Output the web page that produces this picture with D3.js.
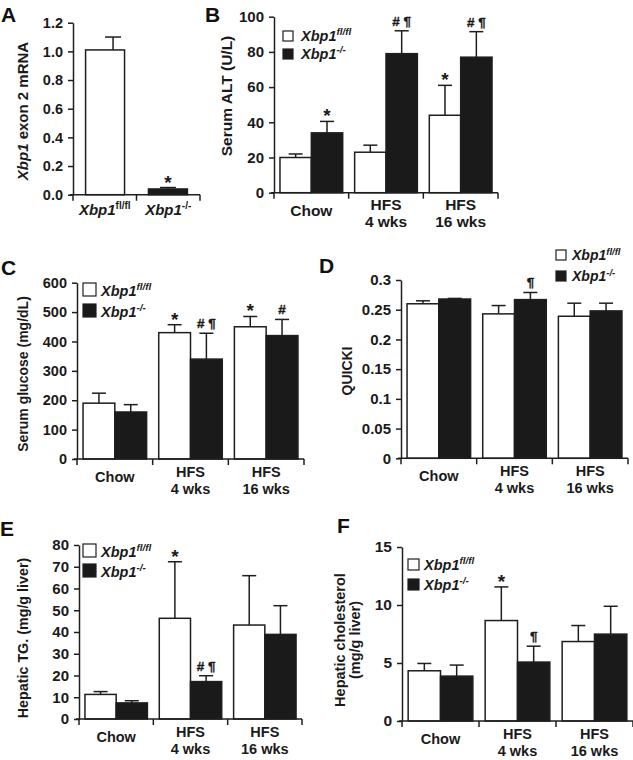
<!DOCTYPE html>
<html><head><meta charset="utf-8">
<script src="https://cdn.jsdelivr.net/npm/d3@7"></script>
<style>
body{margin:0;background:#fff;}
svg{display:block;font-family:"Liberation Sans",Arial,Helvetica,sans-serif;font-weight:bold;}
</style>
</head><body>
<svg id="c" width="633" height="760"></svg>
<script>
// ---------------- DATA ----------------
const groupLabels = [["Chow"], ["HFS", "4 wks"], ["HFS", "16 wks"]];
const genotypes = ["fl/fl", "-/-"];

// Panel A: Xbp1 exon 2 mRNA
const aValues = [1.01, 0.04];
const aSem = [0.09, 0.01];
const aTicks = [0, 0.2, 0.4, 0.6, 0.8, 1.0, 1.2];
const aMarks = [["*", 1]];

// Panel B: Serum ALT (U/L)
const bWT = [20, 23, 44];
const bWTsem = [2, 4, 17];
const bKO = [34, 79, 77];
const bKOsem = [6.5, 13, 14.5];
const bTicks = [0, 20, 40, 60, 80, 100];
const bMarks = [["*", 0, 1], ["# ¶", 1, 1], ["*", 2, 0], ["# ¶", 2, 1]];

// Panel C: Serum glucose (mg/dL)
const cWT = [190, 430, 450];
const cWTsem = [34, 27, 35];
const cKO = [160, 340, 420];
const cKOsem = [25, 88, 55];
const cTicks = [0, 100, 200, 300, 400, 500, 600];
const cMarks = [["*", 1, 0], ["# ¶", 1, 1], ["*", 2, 0], ["#", 2, 1]];

// Panel D: QUICKI
const dWT = [0.260, 0.243, 0.239];
const dWTsem = [0.005, 0.014, 0.022];
const dKO = [0.268, 0.267, 0.248];
const dKOsem = [0.001, 0.012, 0.013];
const dTicks = [0, 0.05, 0.1, 0.15, 0.2, 0.25, 0.3];
const dMarks = [["¶", 1, 1]];

// Panel E: Hepatic TG (mg/g liver)
const eWT = [11.3, 46.3, 43.2];
const eWTsem = [1.3, 26, 22.7];
const eKO = [7.4, 17.2, 38.9];
const eKOsem = [1.0, 2.7, 13.2];
const eTicks = [0, 10, 20, 30, 40, 50, 60, 70, 80];
const eMarks = [["*", 1, 0], ["# ¶", 1, 1]];

// Panel F: Hepatic cholesterol (mg/g liver)
const fWT = [4.33, 8.66, 6.85];
const fWTsem = [0.63, 2.9, 1.38];
const fKO = [3.87, 5.08, 7.49];
const fKOsem = [0.95, 1.37, 2.4];
const fTicks = [0, 5, 10, 15];
const fMarks = [["*", 1, 0], ["¶", 1, 1]];

// ---------------- DRAWING ----------------
const svg = d3.select("#c");
const INK = "#1e1e1e";
const TXT = "#1a1a1a";
const BAR_BLACK = "#1a1a1a";

function xbp1(sel, sup, size, supSize, italicSup) {
  sel.append("tspan").attr("font-style", "italic").text("Xbp1");
  sel.append("tspan").attr("font-style", italicSup ? "italic" : "normal")
    .attr("font-size", supSize).attr("dy", -size * 0.38).text(sup);
}

function letter(t, x, y) {
  svg.append("text").attr("x", x).attr("y", y).attr("font-size", 21).attr("fill", "#111").text(t);
}

function yAxis(g, y, x0, ticks, fmt, fs) {
  const ax = d3.axisLeft(y).tickValues(ticks).tickFormat(fmt).tickSize(5).tickSizeOuter(0).tickPadding(5);
  const a = g.append("g").attr("transform", `translate(${x0},0)`).call(ax);
  a.attr("font-family", null).attr("font-size", null);
  a.select(".domain").attr("stroke", INK).attr("stroke-width", 1.5);
  a.selectAll(".tick line").attr("stroke", INK).attr("stroke-width", 1.5);
  a.selectAll(".tick text").attr("font-size", fs).attr("font-weight", "bold").attr("fill", TXT);
}

function yTitle(g, x, y, fs, build) {
  const t = g.append("text").attr("transform", `translate(${x},${y}) rotate(-90)`)
    .attr("text-anchor", "middle").attr("font-size", fs).attr("fill", TXT);
  build(t);
}

function errBar(g, cx, yTop, yErr, cap) {
  g.append("line").attr("x1", cx).attr("x2", cx).attr("y1", yTop).attr("y2", yErr)
    .attr("stroke", INK).attr("stroke-width", 1.5);
  g.append("line").attr("x1", cx - cap / 2).attr("x2", cx + cap / 2).attr("y1", yErr).attr("y2", yErr)
    .attr("stroke", INK).attr("stroke-width", 1.5);
}

function mark(g, t, cx, yCap) {
  const star = t === "*";
  g.append("text").attr("x", cx).attr("y", star ? yCap + 1 : yCap - 5)
    .attr("text-anchor", "middle")
    .attr("font-size", star ? 19 : 13.5).attr("fill", TXT)
    .attr("stroke", TXT).attr("stroke-width", star ? 0 : 0.35)
    .text(t);
}

// ---- Panel A ----
(function () {
  const x0 = 73, x1 = 200, yTop = 22.7, yBot = 194.7;
  const g = svg.append("g");
  const y = d3.scaleLinear().domain([0, 1.2]).range([yBot, yTop]);
  const x = d3.scaleBand().domain(genotypes).range([x0, x1]).paddingInner(0.38).paddingOuter(0.2);
  genotypes.forEach((k, i) => {
    const bx = x(k), bw = x.bandwidth();
    const cx = bx + bw / 2 + (i === 0 ? 8 : 0);
    errBar(g, cx, y(aValues[i]), y(aValues[i] + aSem[i]), 16);
    g.append("rect").attr("x", bx).attr("y", y(aValues[i])).attr("width", bw)
      .attr("height", yBot - y(aValues[i]))
      .attr("fill", i === 0 ? "#fff" : BAR_BLACK).attr("stroke", INK).attr("stroke-width", 1.5);
  });
  aMarks.forEach(([t, i]) => mark(g, t, x(genotypes[i]) + x.bandwidth() / 2, y(aValues[i] + aSem[i])));
  yAxis(g, y, x0, aTicks, d3.format(".1f"), 14.5);
  g.append("line").attr("x1", x0 - 3).attr("x2", x1).attr("y1", yBot).attr("y2", yBot).attr("stroke", INK).attr("stroke-width", 1.5);
  const step = (x1 - x0) / 2;
  [0, 1, 2].forEach(i => g.append("line").attr("x1", x0 + step * i).attr("x2", x0 + step * i)
    .attr("y1", yBot).attr("y2", yBot + 6).attr("stroke", INK).attr("stroke-width", 1.5));
  genotypes.forEach((k, i) => {
    const t = g.append("text").attr("x", x0 + step * (i + 0.5)).attr("y", yBot + 20)
      .attr("text-anchor", "middle").attr("font-size", 15).attr("fill", TXT);
    xbp1(t, k, 15, 10, false);
  });
  yTitle(g, 28, 111, 15, t => {
    t.append("tspan").attr("font-style", "italic").text("Xbp1");
    t.append("tspan").text(" exon 2 mRNA");
  });
  letter("A", 1, 22);
})();

// ---- Grouped panels ----
function grouped(c) {
  const g = svg.append("g");
  const y = d3.scaleLinear().domain(c.domain).range([c.yBot, c.yTop]);
  const x = d3.scaleBand().domain([0, 1, 2]).range([c.x0, c.x1]).paddingInner(0.16).paddingOuter(0.08);
  const sub = d3.scaleBand().domain([0, 1]).range([0, x.bandwidth()]);
  const series = [[c.wt, c.wtSem], [c.ko, c.koSem]];
  series.forEach(([vals, sems], s) => {
    vals.forEach((v, i) => {
      const bx = x(i) + sub(s), bw = sub.bandwidth();
      errBar(g, bx + bw / 2, y(v), y(v + sems[i]), 14);
      g.append("rect").attr("x", bx).attr("y", y(v)).attr("width", bw).attr("height", c.yBot - y(v))
        .attr("fill", s === 0 ? "#fff" : BAR_BLACK).attr("stroke", INK).attr("stroke-width", 1.5);
    });
  });
  c.marks.forEach(([t, i, s]) => {
    const [vals, sems] = series[s];
    mark(g, t, x(i) + sub(s) + sub.bandwidth() / 2, y(vals[i] + sems[i]));
  });
  yAxis(g, y, c.x0, c.ticks, c.fmt, c.tickFs);
  g.append("line").attr("x1", c.x0 - 3).attr("x2", c.x1).attr("y1", c.yBot).attr("y2", c.yBot).attr("stroke", INK).attr("stroke-width", 1.5);
  const step = x.step();
  [0, 1, 2, 3].forEach(i => g.append("line").attr("x1", c.x0 + step * i).attr("x2", c.x0 + step * i)
    .attr("y1", c.yBot).attr("y2", c.yBot + 6).attr("stroke", INK).attr("stroke-width", 1.5));
  const cf = c.catFs;
  groupLabels.forEach((lines, i) => {
    const cx = c.x0 + step * (i + 0.5);
    if (lines.length === 1) {
      g.append("text").attr("x", cx).attr("y", c.yBot + 23).attr("text-anchor", "middle")
        .attr("font-size", cf).attr("fill", TXT).text(lines[0]);
    } else {
      lines.forEach((l, j) => g.append("text").attr("x", cx).attr("y", c.yBot + 17.5 + j * 17)
        .attr("text-anchor", "middle").attr("font-size", cf).attr("fill", TXT).text(l));
    }
  });
  const L = c.legend;
  genotypes.forEach((k, i) => {
    const yy = L.y + i * L.gap;
    g.append("rect").attr("x", L.x).attr("y", yy - L.size).attr("width", L.size).attr("height", L.size)
      .attr("fill", i === 0 ? "#fff" : BAR_BLACK).attr("stroke", INK).attr("stroke-width", 1.2);
    const t = g.append("text").attr("x", L.x + L.size + L.textGap).attr("y", yy)
      .attr("font-size", L.fs).attr("fill", TXT);
    xbp1(t, k, L.fs, L.fs * 0.68, true);
  });
  yTitle(g, c.titleX, c.titleY, c.titleFs, c.title);
  letter(c.letter, c.letterX, c.letterY);
}

const fmtInt = d3.format("d");
const simple = t => g => g.text(t);

grouped({x0: 274, x1: 498, yTop: 16.7, yBot: 192.7, domain: [0, 100], ticks: bTicks, fmt: fmtInt,
  wt: bWT, wtSem: bWTsem, ko: bKO, koSem: bKOsem, marks: bMarks, tickFs: 15, catFs: 15.5,
  legend: {x: 283, y: 41, size: 10, gap: 18, textGap: 8, fs: 14.5},
  titleX: 232, titleY: 96, titleFs: 15.5, title: simple("Serum ALT (U/L)"), letter: "B", letterX: 205, letterY: 22});

grouped({x0: 77, x1: 304, yTop: 282.7, yBot: 459, domain: [0, 600], ticks: cTicks, fmt: fmtInt,
  wt: cWT, wtSem: cWTsem, ko: cKO, koSem: cKOsem, marks: cMarks, tickFs: 14.5, catFs: 14.5,
  legend: {x: 83, y: 296, size: 13, gap: 21, textGap: 5, fs: 14.5},
  titleX: 28, titleY: 374, titleFs: 14, title: simple("Serum glucose (mg/dL)"), letter: "C", letterX: 1, letterY: 275});

grouped({x0: 401, x1: 628, yTop: 280, yBot: 458.3, domain: [0, 0.3], ticks: dTicks, fmt: d3.format("~g"),
  wt: dWT, wtSem: dWTsem, ko: dKO, koSem: dKOsem, marks: dMarks, tickFs: 15, catFs: 14.5,
  legend: {x: 556, y: 260, size: 10, gap: 21, textGap: 6, fs: 14},
  titleX: 352, titleY: 371, titleFs: 14, title: simple("QUICKI"), letter: "D", letterX: 319, letterY: 273});

grouped({x0: 79, x1: 302, yTop: 545, yBot: 719, domain: [0, 80], ticks: eTicks, fmt: fmtInt,
  wt: eWT, wtSem: eWTsem, ko: eKO, koSem: eKOsem, marks: eMarks, tickFs: 15, catFs: 14.5,
  legend: {x: 83, y: 557, size: 13, gap: 20, textGap: 5, fs: 14.5},
  titleX: 28, titleY: 638, titleFs: 14.3, title: simple("Hepatic TG. (mg/g liver)"), letter: "E", letterX: 0, letterY: 536});

grouped({x0: 402, x1: 633, yTop: 547, yBot: 721, domain: [0, 15], ticks: fTicks, fmt: fmtInt,
  wt: fWT, wtSem: fWTsem, ko: fKO, koSem: fKOsem, marks: fMarks, tickFs: 15.5, catFs: 14.5,
  legend: {x: 408, y: 570, size: 11, gap: 20, textGap: 5, fs: 14.5},
  titleX: 345, titleY: 640, titleFs: 14.5, title: t => {
    t.append("tspan").attr("x", 0).attr("dy", 0).text("Hepatic cholesterol");
    t.append("tspan").attr("x", 0).attr("dy", 14.5).text("(mg/g liver)");
  }, letter: "F", letterX: 337, letterY: 533});
</script>
</body></html>
